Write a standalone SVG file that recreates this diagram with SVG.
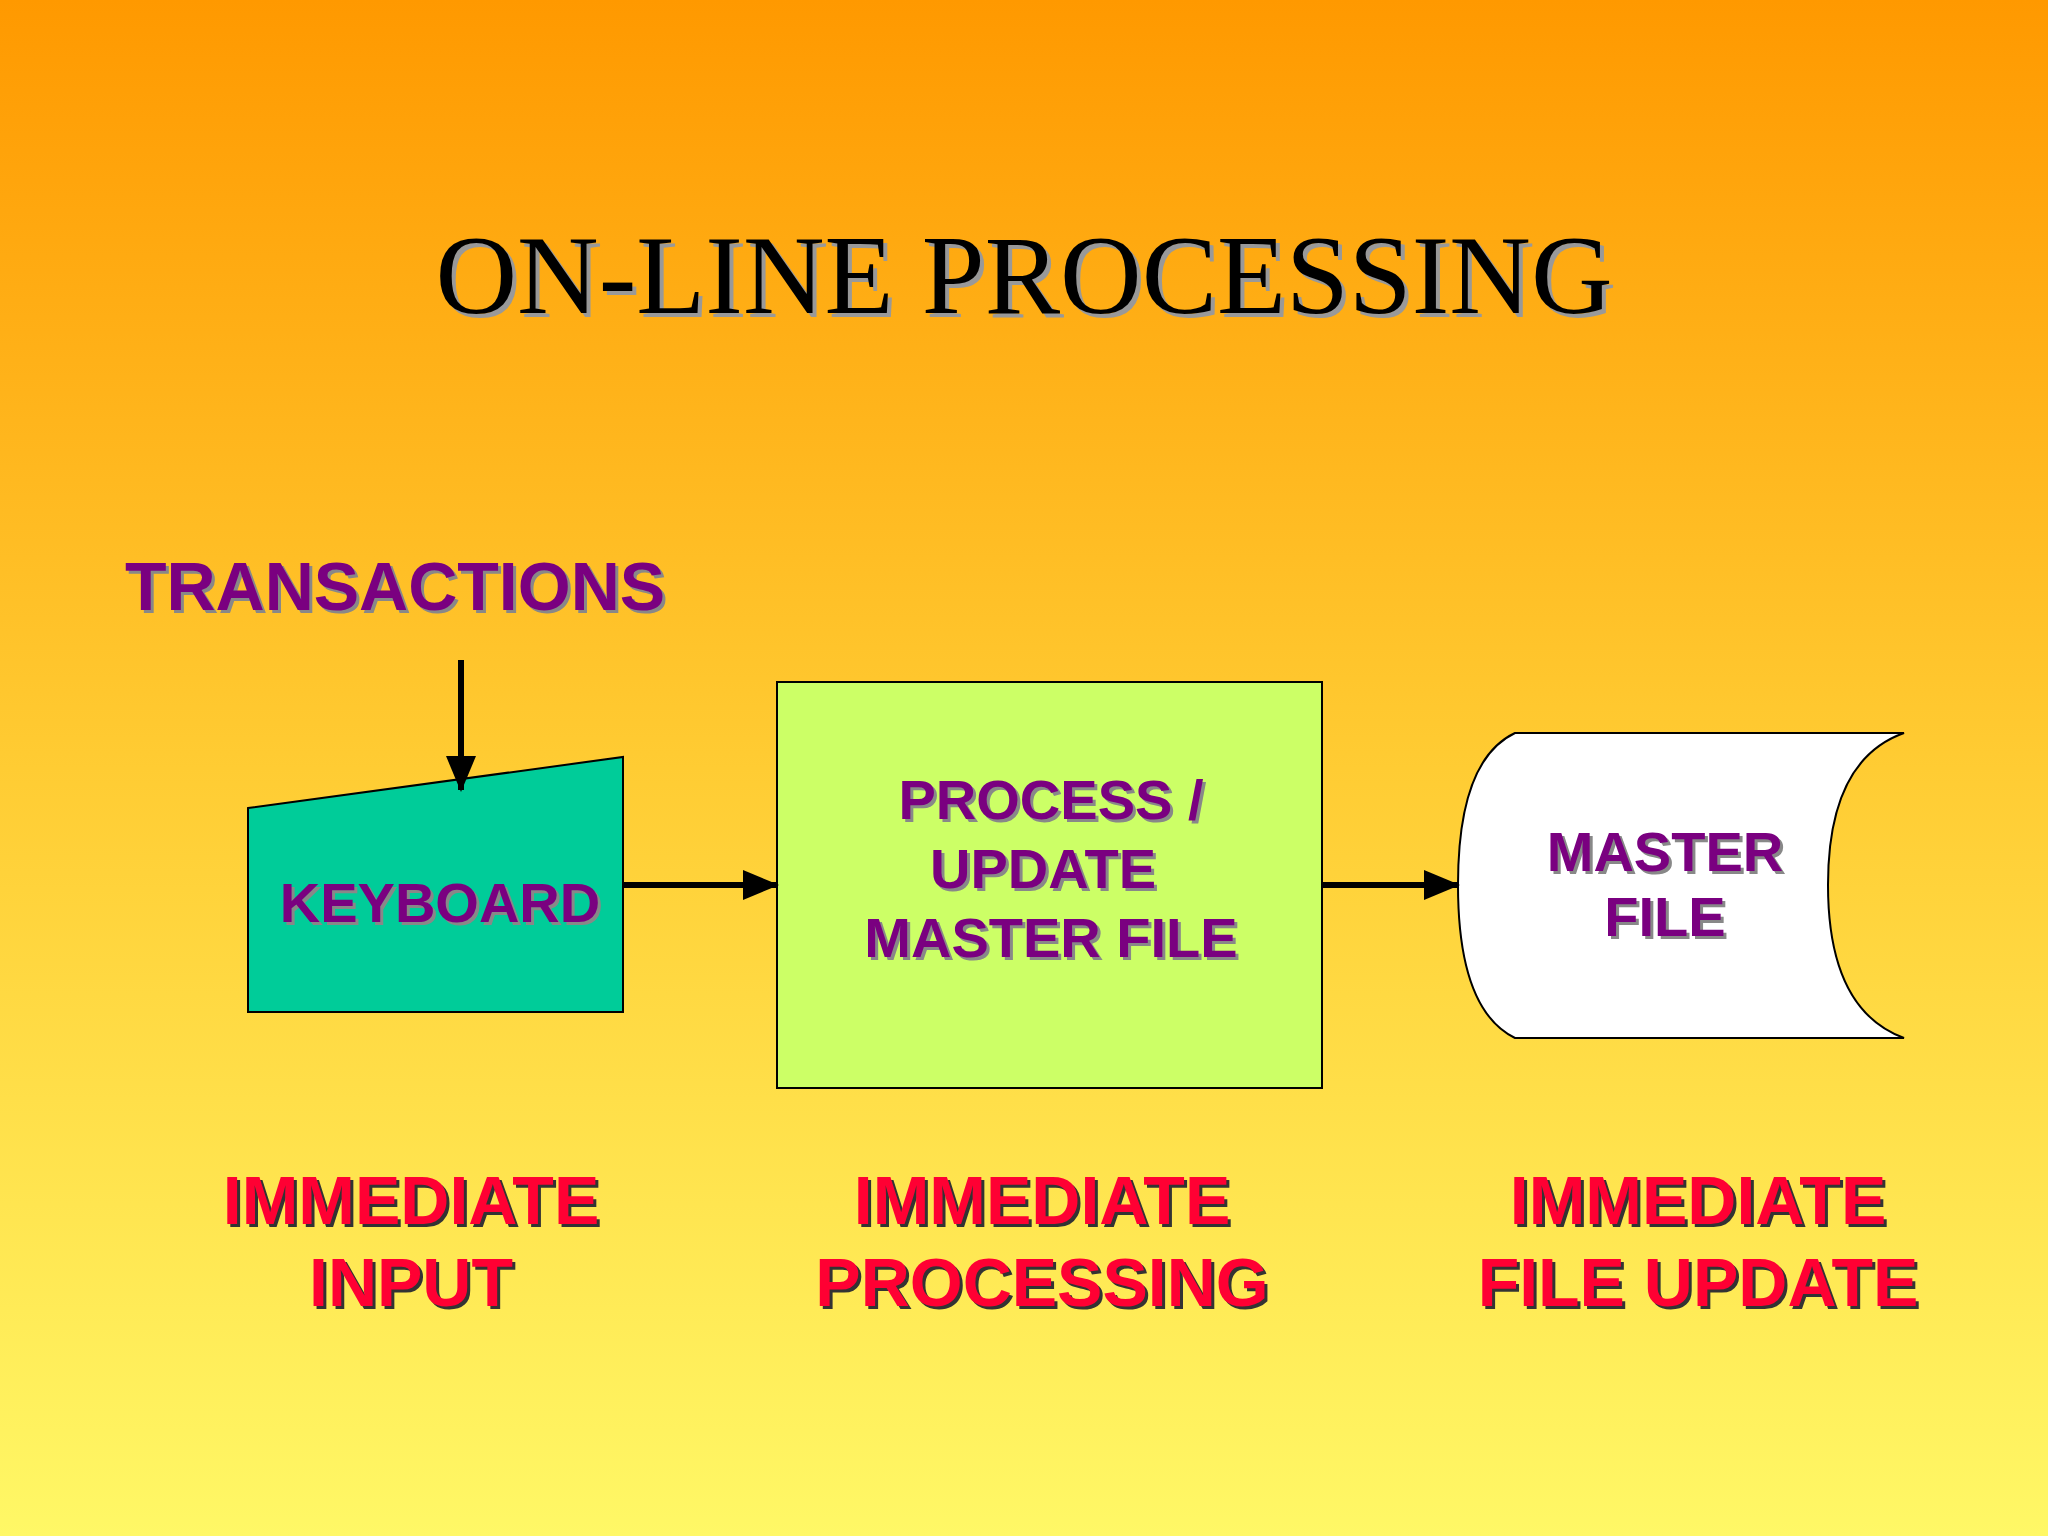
<svg xmlns="http://www.w3.org/2000/svg" xmlns:xlink="http://www.w3.org/1999/xlink" width="2048" height="1536" viewBox="0 0 2048 1536">
<defs>
<linearGradient id="bg" x1="0" y1="0" x2="0" y2="1">
<stop offset="0" stop-color="#FF9900"/>
<stop offset="0.5" stop-color="#FFCC33"/>
<stop offset="1" stop-color="#FFF866"/>
</linearGradient>
<marker id="ah" markerWidth="10" markerHeight="10" refX="9" refY="5" orient="auto" markerUnits="userSpaceOnUse" viewBox="0 0 10 10">
<path d="M0,0 L10,5 L0,10 z" fill="#000"/>
</marker>
<style>
.t{font-family:"Liberation Serif",serif;font-size:113px;text-anchor:middle}
.p{font-family:"Liberation Sans",Arial,sans-serif;font-weight:bold;fill:#7A0080;text-anchor:middle;font-size:56px}
.ps{font-family:"Liberation Sans",Arial,sans-serif;font-weight:bold;fill:#888;text-anchor:middle;font-size:56px}
.r{font-family:"Liberation Sans",Arial,sans-serif;font-weight:bold;fill:#FF0033;text-anchor:middle;font-size:68px}
.rs{font-family:"Liberation Sans",Arial,sans-serif;font-weight:bold;fill:#333;text-anchor:middle;font-size:68px}
.c{stroke:#000;stroke-width:6;fill:none}
</style>
<marker id="ah2" markerWidth="36" markerHeight="30" refX="34" refY="15" orient="auto" markerUnits="userSpaceOnUse">
<path d="M0,0 L36,15 L0,30 z" fill="#000"/>
</marker>
</defs>
<rect width="2048" height="1536" fill="url(#bg)"/>
<g id="title">
<text class="t" x="1028" y="317" fill="#999">ON-LINE PROCESSING</text>
<text class="t" x="1024" y="313" fill="#000">ON-LINE PROCESSING</text>
</g>
<g id="transactions">
<text class="ps" x="398" y="613" style="text-anchor:middle;font-size:68px">TRANSACTIONS</text>
<text class="p" x="395" y="610" style="font-size:68px">TRANSACTIONS</text>
</g>
<g id="keyboard">
<polygon points="248,808 623,757 623,1012 248,1012" fill="#00CC99" stroke="#000" stroke-width="2"/>
<text class="ps" x="443" y="925">KEYBOARD</text>
<text class="p" x="440" y="922">KEYBOARD</text>
</g>
<g id="process">
<rect x="777" y="682" width="545" height="406" fill="#CCFF66" stroke="#000" stroke-width="2"/>
<text class="ps" x="1054" y="822">PROCESS /</text>
<text class="p" x="1051" y="819">PROCESS /</text>
<text class="ps" x="1046" y="891">UPDATE</text>
<text class="p" x="1043" y="888">UPDATE</text>
<text class="ps" x="1054" y="960">MASTER FILE</text>
<text class="p" x="1051" y="957">MASTER FILE</text>
</g>
<g id="masterfile">
<path d="M1515,733 L1904,733 Q1828,760 1828,885 Q1828,1010 1904,1038 L1515,1038 Q1458,1010 1458,885 Q1458,760 1515,733 z" fill="#FFFFFF" stroke="#000" stroke-width="2"/>
<text class="ps" x="1668" y="874">MASTER</text>
<text class="p" x="1665" y="871">MASTER</text>
<text class="ps" x="1668" y="939">FILE</text>
<text class="p" x="1665" y="936">FILE</text>
</g>
<g id="connectors">
<line class="c" x1="461" y1="660" x2="461" y2="790" marker-end="url(#ah2)"/>
<line class="c" x1="623" y1="885" x2="777" y2="885" marker-end="url(#ah2)"/>
<line class="c" x1="1322" y1="885" x2="1458" y2="885" marker-end="url(#ah2)"/>
</g>
<g id="labels">
<text class="rs" x="414" y="1227">IMMEDIATE</text>
<text class="r" x="411" y="1224">IMMEDIATE</text>
<text class="rs" x="414" y="1309">INPUT</text>
<text class="r" x="411" y="1306">INPUT</text>
<text class="rs" x="1045" y="1227">IMMEDIATE</text>
<text class="r" x="1042" y="1224">IMMEDIATE</text>
<text class="rs" x="1045" y="1309">PROCESSING</text>
<text class="r" x="1042" y="1306">PROCESSING</text>
<text class="rs" x="1701" y="1227">IMMEDIATE</text>
<text class="r" x="1698" y="1224">IMMEDIATE</text>
<text class="rs" x="1701" y="1309">FILE UPDATE</text>
<text class="r" x="1698" y="1306">FILE UPDATE</text>
</g>
</svg>
